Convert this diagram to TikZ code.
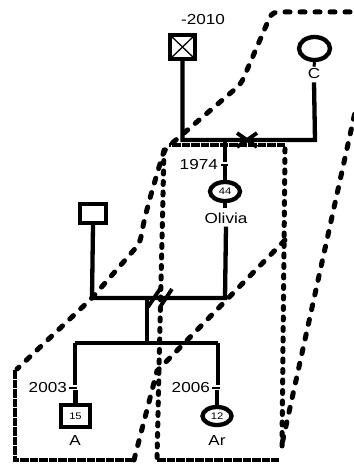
\documentclass[tikz,border=0pt]{standalone}
\usepackage{fontspec}
\setmainfont{Liberation Sans}
\usepackage{graphicx}
\usetikzlibrary{shapes.geometric}
\newcommand\hlab[1]{\scalebox{1.18}[1]{#1}}
\begin{document}
\begin{tikzpicture}[x=1pt,y=-1pt,
  fam/.style={line width=4.3pt},
  per/.style={draw, line width=4.3pt, fill=white, inner sep=0pt, font=\fontsize{9.5}{10}\selectfont},
  male/.style={per, rectangle},
  female/.style={per, ellipse},
  txt/.style={inner sep=0pt, font=\fontsize{14.5}{16}\selectfont},
  ld/.style={line width=5pt, line cap=round, dash pattern=on 5pt off 10pt},
  dd/.style={line width=5pt, line cap=round, dash pattern=on 3pt off 7.5pt},
  ddh/.style={line width=4.8pt, dash pattern=on 8.5pt off 1pt},
  tick/.style={line width=1.4pt},
  crossmark/.style={line width=3.8pt}
]
\useasboundingbox (0,0) rectangle (353,465);

% dashed household boundaries
\draw[ld, rounded corners=6pt] (365,12) -- (272,12) -- (241,84) -- (177,139) -- (164,150)
  .. controls (156,178) and (145,212) .. (140,243) -- (92,298) -- (17,369);
\draw[ddh] (15,370) -- (15,460) -- (134,460);
\draw[ld] (134,460) -- (157,371) -- (285,240);
\draw[ld] (361,85) -- (282,444);
\draw[ddh] (285,145) -- (169,145);
\draw[dd] (164,150) -- (157,458);
\draw[ddh] (157,460) -- (279,460);
\draw[dd] (285,149) -- (282,446);

% coordinates
\coordinate (mL) at (182.5,140);
\coordinate (mR) at (315,140);
\coordinate (oTop) at (225,140);
\coordinate (xm) at (247,140);
\coordinate (m2L) at (92,298);
\coordinate (m2R) at (225,298);
\coordinate (dv) at (160,298);
\coordinate (cTop) at (147,298);
\coordinate (cBot) at (147,343);
\coordinate (sL) at (75,343);
\coordinate (sR) at (218,343);

% people
\node[male, minimum width=25pt, minimum height=24pt,
  path picture={\draw[line width=1.3pt] (path picture bounding box.north west) -- (path picture bounding box.south east)
    (path picture bounding box.north east) -- (path picture bounding box.south west);}] (gf) at (182.5,47) {};
\node[txt] (gfyr) at (203,20) {\hlab{-2010}};
\node[female, minimum width=31pt, minimum height=23pt] (gm) at (314.5,48.5) {};
\node[txt] (gmlab) at (314,74) {\hlab{C}};
\node[male, minimum width=26pt, minimum height=19pt] (fa) at (93,213.5) {};
\node[female, minimum width=30pt, minimum height=19pt] (ol) at (225,191.5) {\hlab{44}};
\node[txt] (ollab) at (226,218) {\hlab{Olivia}};
\node[txt, anchor=east] (olyr) at (218,165) {\hlab{1974}};
\node[male, minimum width=29pt, minimum height=22pt] (a) at (75.5,416) {\hlab{15}};
\node[txt] (alab) at (75,441) {\hlab{A}};
\node[txt, anchor=east] (ayr) at (67,388) {\hlab{2003}};
\node[female, minimum width=29pt, minimum height=18pt] (ar) at (217,416) {\hlab{12}};
\node[txt] (arlab) at (217,441) {\hlab{Ar}};
\node[txt, anchor=east] (aryr) at (210,388) {\hlab{2006}};

% family lines
\draw[fam] (gf.south) -- (mL) -- (mR) -- ([yshift=-3pt]gmlab.south);
\draw[line width=3pt] (gm.south) -- ([yshift=2pt]gmlab.north);
\draw[crossmark] (xm) +(-10,-7) -- +(10,7) +(-10,7) -- +(10,-7);
\draw[fam] (oTop) -- ++(0,22);
\draw[fam] (ol.north) -- ++(0,-14);
\draw[tick] ([xshift=3pt]olyr.east) -- ++(7,0);
\draw[fam] (ol.south) -- ++(0,5);
\draw[fam] ([yshift=-3pt]ollab.south) -- (m2R) -- (m2L) -- (fa.south);
\draw[crossmark] (dv) +(-12,9) -- +(0,-9) +(0,9) -- +(12,-9);
\draw[fam] (cTop) -- (cBot);
\draw[fam] (sL) -- (sR);
\draw[fam] (sL) -- ++(0,42);
\draw[fam] (a.north) -- ++(0,-13);
\draw[tick] ([xshift=2pt]ayr.east) -- ++(8,0);
\draw[fam] (sR) -- ++(0,42);
\draw[fam] (ar.north) -- ++(0,-15);
\draw[tick] ([xshift=2pt]aryr.east) -- ++(8,0);
\end{tikzpicture}
\end{document}
